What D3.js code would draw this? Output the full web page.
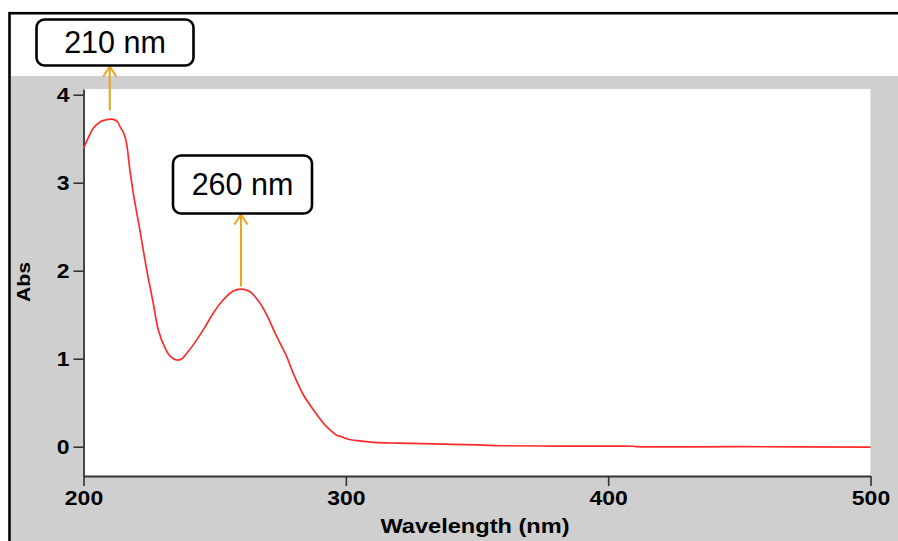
<!DOCTYPE html>
<html>
<head>
<meta charset="utf-8">
<script src="https://cdn.jsdelivr.net/npm/d3@7"></script>
<style>
  html, body { margin: 0; padding: 0; background: #ffffff; }
  svg { display: block; }
</style>
</head>
<body>
<svg id="chart" width="898" height="541"></svg>
<script>
// UV-Vis absorption spectrum: wavelength (nm) vs absorbance
const wavelengths = [200, 202, 203.7, 206.3, 208, 209.5, 211.4, 213, 213.9, 215.5, 216.5, 217.7, 219,
  221.5, 224.1, 226.6, 228.5, 231.1, 233, 235.5, 237.5, 239.3, 241.9, 245.7, 249.5, 253.3, 257.1, 260.3,
  263.5, 267.3, 269.8, 273.7, 277.5, 280, 283.8, 287.6, 291.4, 294, 296.5, 298.3, 300.3, 304.2, 310.5,
  320, 333.4, 350, 361.3, 380, 400, 409.6, 411, 450, 500];
const absorbance = [3.39, 3.52, 3.62, 3.69, 3.71, 3.72, 3.72, 3.69, 3.64, 3.55, 3.43, 3.14, 2.88,
  2.46, 2.01, 1.63, 1.33, 1.12, 1.03, 0.985, 1.00, 1.06, 1.16, 1.33, 1.52, 1.67, 1.77, 1.79,
  1.76, 1.63, 1.50, 1.25, 1.02, 0.83, 0.59, 0.42, 0.27, 0.19, 0.13, 0.114, 0.09, 0.068, 0.05,
  0.04, 0.031, 0.02, 0.011, 0.007, 0.006, 0.005, 0.0, 0.0, -0.005];

const xTicks = [200, 300, 400, 500];
const yTicks = [0, 1, 2, 3, 4];

// Peak annotations
const peakWavelengths = [210, 260];
const peakLabels = ["210 nm", "260 nm"];

const svg = d3.select("#chart");
const W = 898, H = 541;
const plot = { left: 83.5, right: 870.5, top: 89, bottom: 476 };

const x = d3.scaleLinear().domain([200, 500]).range([plot.left, plot.right]);
const y = d3.scaleLinear().domain([-0.333, 4.065]).range([plot.bottom, plot.top]);

// Frame and grey surround
svg.append("rect").attr("x", 0).attr("y", 0).attr("width", W).attr("height", H).attr("fill", "#ffffff");
svg.append("rect").attr("x", 11).attr("y", 76).attr("width", W - 11).attr("height", H - 76).attr("fill", "#cfcfcf");
svg.append("rect").attr("x", plot.left).attr("y", plot.top)
  .attr("width", plot.right - plot.left).attr("height", plot.bottom - plot.top).attr("fill", "#ffffff");
svg.append("rect").attr("x", 9.5).attr("y", 13.2).attr("width", W + 10).attr("height", H + 10)
  .attr("fill", "none").attr("stroke", "#000").attr("stroke-width", 2.6);

// Stretch bold labels slightly wider
function widen(sel, f) {
  sel.each(function () {
    const len = this.getComputedTextLength();
    this.setAttribute("textLength", len * f);
    this.setAttribute("lengthAdjust", "spacingAndGlyphs");
  });
}

const fontFam = "'Liberation Sans', Arial, Helvetica, sans-serif";

// Axes
const xAxis = d3.axisBottom(x).tickValues(xTicks).tickFormat(d3.format("d"))
  .tickSize(10).tickSizeOuter(0).tickPadding(4);
const gx = svg.append("g").attr("transform", `translate(0,${plot.bottom})`).call(xAxis);
const yAxis = d3.axisLeft(y).tickValues(yTicks).tickFormat(d3.format("d"))
  .tickSize(10).tickSizeOuter(0).tickPadding(4);
const gy = svg.append("g").attr("transform", `translate(${plot.left},0)`).call(yAxis);

[gx, gy].forEach(g => {
  g.select(".domain").attr("stroke", "#333").attr("stroke-width", 1.8);
  g.selectAll(".tick line").attr("stroke", "#333").attr("stroke-width", 1.6);
  g.selectAll(".tick text").attr("fill", "#000").style("font-family", fontFam)
    .style("font-weight", "bold").style("font-size", "20.5px");
});
widen(gx.selectAll(".tick text"), 1.12);
widen(gy.selectAll(".tick text"), 1.12);

// Axis titles
const xt = svg.append("text").attr("x", 475).attr("y", 533).attr("text-anchor", "middle")
  .style("font-family", fontFam).style("font-weight", "bold").style("font-size", "20.5px")
  .text("Wavelength (nm)");
widen(xt, 1.15);
const yt = svg.append("text").attr("transform", "translate(30,282) rotate(-90)").attr("text-anchor", "middle")
  .style("font-family", fontFam).style("font-weight", "bold").style("font-size", "19px")
  .text("Abs");
widen(yt, 1.12);

// Spectrum
const data = wavelengths.map((w, i) => [w, absorbance[i]]);
const line = d3.line().x(d => x(d[0])).y(d => y(d[1])).curve(d3.curveCatmullRom.alpha(0.5));
svg.append("path").datum(data).attr("d", line)
  .attr("fill", "none").attr("stroke", "#ff2b2b").attr("stroke-width", 1.7);

// Peak arrows and labels
const arrowColor = "#e8a317";
const boxes = [
  { x: 36.5, y: 19.5, w: 157, h: 46, arrowFrom: 3.82 },
  { x: 173, y: 155.5, w: 139, h: 58, arrowFrom: 1.82 }
];
peakWavelengths.forEach((pw, i) => {
  const b = boxes[i];
  const ax = x(pw);
  const top = b.y + b.h + 1;
  const bottom = y(b.arrowFrom);
  svg.append("line").attr("x1", ax).attr("x2", ax).attr("y1", bottom).attr("y2", top)
    .attr("stroke", arrowColor).attr("stroke-width", 2);
  svg.append("path").attr("d", `M${ax - 6.5},${top + 10} L${ax},${top} L${ax + 6.5},${top + 10}`)
    .attr("fill", "none").attr("stroke", arrowColor).attr("stroke-width", 2);
  svg.append("rect").attr("x", b.x).attr("y", b.y).attr("width", b.w).attr("height", b.h)
    .attr("rx", 8).attr("ry", 8).attr("fill", "#ffffff").attr("stroke", "#000").attr("stroke-width", 2.6);
  svg.append("text").attr("x", b.x + b.w / 2).attr("y", b.y + b.h / 2 + 10.5).attr("text-anchor", "middle")
    .style("font-family", fontFam).style("font-size", "30.5px").attr("fill", "#000")
    .text(peakLabels[i]);
});
</script>
</body>
</html>
